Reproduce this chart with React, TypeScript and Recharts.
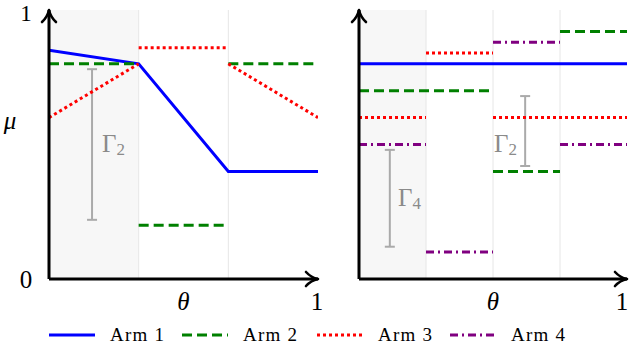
import React from 'react';
import {
  ComposedChart,
  Line,
  XAxis,
  YAxis,
  ReferenceArea,
  ReferenceLine,
  ReferenceDot,
  Scatter,
  ErrorBar,
} from 'recharts';

// ---------- data ----------
const armNames = ['Arm 1', 'Arm 2', 'Arm 3', 'Arm 4'];
const armColors = ['#0000ff', '#008000', '#ff0000', '#800080'];
const armDashes: (string | undefined)[] = [undefined, '10 5', '3 3', '8 4 2 4'];

// left panel: piecewise linear segments
const leftBreaks = [0, 1 / 3, 2 / 3, 1];
const leftArm1Start = [0.85, 0.8, 0.4];
const leftArm1End = [0.8, 0.4, 0.4];
const leftArm2Start = [0.8, 0.2, 0.8];
const leftArm2End = [0.8, 0.2, 0.8];
const leftArm3Start = [0.6, 0.86, 0.8];
const leftArm3End = [0.8, 0.86, 0.6];

// right panel: piecewise constant segments
const rightBreaks = [0, 0.25, 0.5, 0.75, 1];
const rightArm1 = [0.8, 0.8, 0.8, 0.8];
const rightArm2 = [0.7, 0.7, 0.4, 0.92];
const rightArm3 = [0.6, 0.84, 0.6, 0.6];
const rightArm4 = [0.5, 0.1, 0.88, 0.5];

// gap markers
const leftGapX = [0.16];
const leftGapLow = [0.22];
const leftGapHigh = [0.78];
const rightGapX = [0.115, 0.62];
const rightGapLow = [0.12, 0.42];
const rightGapHigh = [0.48, 0.68];

// ---------- helpers ----------
type Pt = { x: number; y: number | null };
function buildSeries(breaks: number[], starts: number[], ends: number[]): Pt[] {
  const pts: Pt[] = [];
  for (let i = 0; i < starts.length; i++) {
    if (i > 0 && Math.abs(ends[i - 1] - starts[i]) > 1e-9) {
      pts.push({ x: breaks[i], y: null });
    }
    pts.push({ x: breaks[i], y: starts[i] });
    pts.push({ x: breaks[i + 1], y: ends[i] });
  }
  return pts;
}
function buildGaps(xs: number[], lows: number[], highs: number[]) {
  return xs.map((x, i) => ({ x, y: (lows[i] + highs[i]) / 2, err: (highs[i] - lows[i]) / 2 }));
}

const leftSeries = [
  buildSeries(leftBreaks, leftArm1Start, leftArm1End),
  buildSeries(leftBreaks, leftArm2Start, leftArm2End),
  buildSeries(leftBreaks, leftArm3Start, leftArm3End),
];
const rightSeries = [rightArm1, rightArm2, rightArm3, rightArm4].map((v) =>
  buildSeries(rightBreaks, v, v)
);
const leftGaps = buildGaps(leftGapX, leftGapLow, leftGapHigh);
const rightGaps = buildGaps(rightGapX, rightGapLow, rightGapHigh);

const SERIF = 'Liberation Serif';
const serifStyle = { fontFamily: SERIF };

function ArrowHead(props: any) {
  const { cx, cy, dir } = props;
  if (cx == null || cy == null) return <g />;
  let d: string;
  if (dir === 'up') {
    d = `M ${cx - 7} ${cy + 12} Q ${cx - 1.5} ${cy + 7} ${cx} ${cy} Q ${cx + 1.5} ${cy + 7} ${cx + 7} ${cy + 12}`;
  } else {
    d = `M ${cx - 12} ${cy - 7} Q ${cx - 7} ${cy - 1.5} ${cx} ${cy} Q ${cx - 7} ${cy + 1.5} ${cx - 12} ${cy + 7}`;
  }
  return <path d={d} fill="none" stroke="#000" strokeWidth={2.6} strokeLinejoin="round" strokeLinecap="round" />;
}

function Panel({
  width,
  margin,
  series,
  breaks,
  shadeTo,
  gaps,
}: {
  width: number;
  margin: any;
  series: Pt[][];
  breaks: number[];
  shadeTo: number;
  gaps: { x: number; y: number; err: number }[];
}) {
  return (
    <ComposedChart width={width} height={300} margin={margin}>
      <XAxis type="number" dataKey="x" domain={[0, 1]} hide allowDataOverflow />
      <YAxis type="number" domain={[0, 1]} hide allowDataOverflow />
      <ReferenceArea x1={0} x2={shadeTo} y1={0} y2={1} fill="#f7f7f7" fillOpacity={1} stroke="none" />
      {breaks.slice(1, -1).map((b, i) => (
        <ReferenceLine key={'g' + i} x={b} stroke="#e6e6e6" strokeWidth={1} />
      ))}
      <Scatter
        data={gaps}
        dataKey="y"
        isAnimationActive={false}
        legendType="none"
        shape={() => <g />}
      >
        <ErrorBar dataKey="err" direction="y" width={5} stroke="#aaaaaa" strokeWidth={2} isAnimationActive={false} />
      </Scatter>
      {series.map((d, i) => (
        <Line
          key={'s' + i}
          data={d}
          dataKey="y"
          type="linear"
          stroke={armColors[i]}
          strokeWidth={3}
          strokeDasharray={armDashes[i]}
          dot={false}
          activeDot={false}
          connectNulls={false}
          isAnimationActive={false}
          legendType="none"
        />
      ))}
      <ReferenceLine segment={[{ x: 0, y: 0 }, { x: 0, y: 1 }]} stroke="#000" strokeWidth={3} />
      <ReferenceLine segment={[{ x: 0, y: 0 }, { x: 1, y: 0 }]} stroke="#000" strokeWidth={3} />
      <ReferenceDot x={0} y={1} r={0} shape={(p: any) => <ArrowHead {...p} dir="up" />} />
      <ReferenceDot x={1} y={0} r={0} shape={(p: any) => <ArrowHead {...p} dir="right" />} />
    </ComposedChart>
  );
}

function Legend() {
  const starts = [49, 182, 317, 450];
  return (
    <g>
      {armNames.map((name, i) => (
        <g key={name}>
          <line
            x1={starts[i]}
            x2={starts[i] + 46}
            y1={335}
            y2={335}
            stroke={armColors[i]}
            strokeWidth={3}
            strokeDasharray={armDashes[i]}
          />
          <text
            x={starts[i] + 61}
            y={341}
            fontSize={19}
            fontFamily={SERIF}
            style={serifStyle}
            letterSpacing={1.2}
            fill="#000"
          >
            {name}
          </text>
        </g>
      ))}
    </g>
  );
}

export default function App() {
  return (
    <div
      style={{
        position: 'absolute',
        left: 0,
        top: 0,
        width: 632,
        height: 344,
        background: '#fff',
        fontFamily: SERIF,
      }}
    >
      <div style={{ position: 'absolute', left: 0, top: 0 }}>
        <Panel
          width={330}
          margin={{ top: 10, right: 12, bottom: 21, left: 49 }}
          series={leftSeries}
          breaks={leftBreaks}
          shadeTo={leftBreaks[1]}
          gaps={leftGaps}
        />
      </div>
      <div style={{ position: 'absolute', left: 330, top: 0 }}>
        <Panel
          width={302}
          margin={{ top: 10, right: 5, bottom: 21, left: 29 }}
          series={rightSeries}
          breaks={rightBreaks}
          shadeTo={rightBreaks[1]}
          gaps={rightGaps}
        />
      </div>
      <svg
        width={632}
        height={344}
        fontFamily={SERIF}
        style={{ position: 'absolute', left: 0, top: 0, pointerEvents: 'none', fontFamily: SERIF }}
      >
        <g fill="#000">
          <text x={26} y={21} fontSize={23} fontFamily={SERIF} textAnchor="middle">1</text>
          <text x={26} y={288} fontSize={25} fontFamily={SERIF} textAnchor="middle">0</text>
          <text x={10} y={129} fontSize={25} fontFamily={SERIF} fontStyle="italic" textAnchor="middle">μ</text>
          <text x={183.5} y={310} fontSize={25} fontFamily={SERIF} fontStyle="italic" textAnchor="middle">θ</text>
          <text x={317} y={310} fontSize={25} fontFamily={SERIF} textAnchor="middle">1</text>
          <text x={493} y={310} fontSize={25} fontFamily={SERIF} fontStyle="italic" textAnchor="middle">θ</text>
          <text x={622} y={310} fontSize={25} fontFamily={SERIF} textAnchor="middle">1</text>
        </g>
        <g fill="#8a8a8a">
          <text x={102} y={152} fontSize={25} fontFamily={SERIF}>
            Γ<tspan fontSize={17} dy={3}>2</tspan>
          </text>
          <text x={494} y={152} fontSize={25} fontFamily={SERIF}>
            Γ<tspan fontSize={17} dy={3}>2</tspan>
          </text>
          <text x={398} y={206} fontSize={25} fontFamily={SERIF}>
            Γ<tspan fontSize={17} dy={3}>4</tspan>
          </text>
        </g>
        <Legend />
      </svg>
    </div>
  );
}
